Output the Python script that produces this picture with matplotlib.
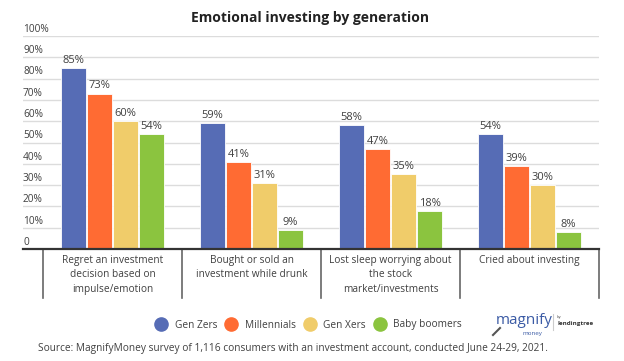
import matplotlib
matplotlib.use('Agg')
import matplotlib.pyplot as plt
from matplotlib.lines import Line2D
import numpy as np

plt.rcParams['font.family'] = ['Open Sans', 'DejaVu Sans']

categories = ["Regret an investment\ndecision based on\nimpulse/emotion",
              "Bought or sold an\ninvestment while drunk",
              "Lost sleep worrying about\nthe stock\nmarket/investments",
              "Cried about investing"]
generations = ["Gen Zers", "Millennials", "Gen Xers", "Baby boomers"]
gen_z = [85, 59, 58, 54]
millennials = [73, 41, 47, 39]
gen_x = [60, 31, 35, 30]
boomers = [54, 9, 18, 8]
series = [gen_z, millennials, gen_x, boomers]
colors = ['#566CB5', '#FF6B33', '#F0CC6A', '#8BC43F']
yticks = [0, 10, 20, 30, 40, 50, 60, 70, 80, 90, 100]

W, H = 624, 361
fig = plt.figure(figsize=(W / 100, H / 100), dpi=100)
ax = fig.add_axes([23 / W, (H - 249) / H, 576 / W, (249 - 36) / H])

x = np.arange(len(categories))
step, w = 0.187, 0.178
for i, (vals, c) in enumerate(zip(series, colors)):
    pos = x + (i - 1.5) * step
    bars = ax.bar(pos, vals, w, color=c, edgecolor='#ffffff', linewidth=0.6, zorder=3)
    for b, v in zip(bars, vals):
        ax.annotate(f'{v}%', (b.get_x() + b.get_width() / 2, v), xytext=(0, 1.5),
                    textcoords='offset points', ha='center', va='bottom',
                    fontsize=8, color='#404040')

ax.set_xlim(-0.5 - 20 / 139, 3.5)
ax.set_ylim(0, 100)
ax.set_yticks(yticks)
ax.set_yticklabels([])
ax.tick_params(length=0)
ax.set_xticks([])
ax.grid(axis='y', color='#dcdcdc', linewidth=1, zorder=0)
for s in ['top', 'right', 'left']:
    ax.spines[s].set_visible(False)
ax.spines['bottom'].set_color('#333333')
ax.spines['bottom'].set_linewidth(1.6)
ax.spines['bottom'].set_zorder(4)

# y tick labels sit above the gridlines
for t in yticks:
    ax.annotate('0' if t == 0 else f'{t}%', (0, t), xycoords=ax.get_yaxis_transform(),
                xytext=(0, 0.8), textcoords='offset points', ha='left', va='bottom',
                fontsize=7.3, color='#404040')

# category separators and labels
trans = ax.get_xaxis_transform()
for b in np.arange(-0.5, len(categories), 1.0):
    ax.plot([b, b], [0, -49 / 213], transform=trans, color='#666666',
            linewidth=1.2, clip_on=False)
for i, cat in enumerate(categories):
    ax.annotate(cat, (i, 0), xycoords=trans, xytext=(0, -4.5), textcoords='offset points',
                ha='center', va='top', fontsize=7.3, color='#404040', linespacing=1.4)

fig.text(310 / W, 1 - 18 / H, 'Emotional investing by generation', ha='center',
         va='center', fontsize=10, fontweight='bold', color='#222222')

handles = [Line2D([], [], marker='o', linestyle='', markersize=9.5, color=c) for c in colors]
fig.legend(handles, generations, loc='center', bbox_to_anchor=(309 / W, 1 - 325 / H),
           ncol=4, frameon=False, fontsize=7.3, handletextpad=0.8, columnspacing=0.9,
           labelcolor='#404040', handlelength=1.0)

fig.text(293 / W, 1 - 348 / H,
         'Source: MagnifyMoney survey of 1,116 consumers with an investment account, conducted June 24-29, 2021.',
         ha='center', va='center', fontsize=7.3, color='#404040')

# logo
fig.text(524 / W, 1 - 320 / H, 'magnify', ha='center', va='center', fontsize=11,
         color='#3B5BA5')
fig.text(532 / W, 1 - 333 / H, 'money', ha='center', va='center', fontsize=4.5,
         color='#3B5BA5')
fig.add_artist(Line2D([493 / W, 500 / W], [1 - 335 / H, 1 - 328 / H], color='#555555', linewidth=1.5))
fig.add_artist(Line2D([553 / W, 553 / W], [1 - 314 / H, 1 - 330 / H], color='#cccccc', linewidth=0.8))
fig.text(557 / W, 1 - 317 / H, 'by', ha='left', va='center', fontsize=3, color='#555555')
fig.text(557 / W, 1 - 323 / H, 'lendingtree', ha='left', va='center', fontsize=4.5,
         fontweight='bold', color='#333333')

fig.savefig('out.png', dpi=100)
